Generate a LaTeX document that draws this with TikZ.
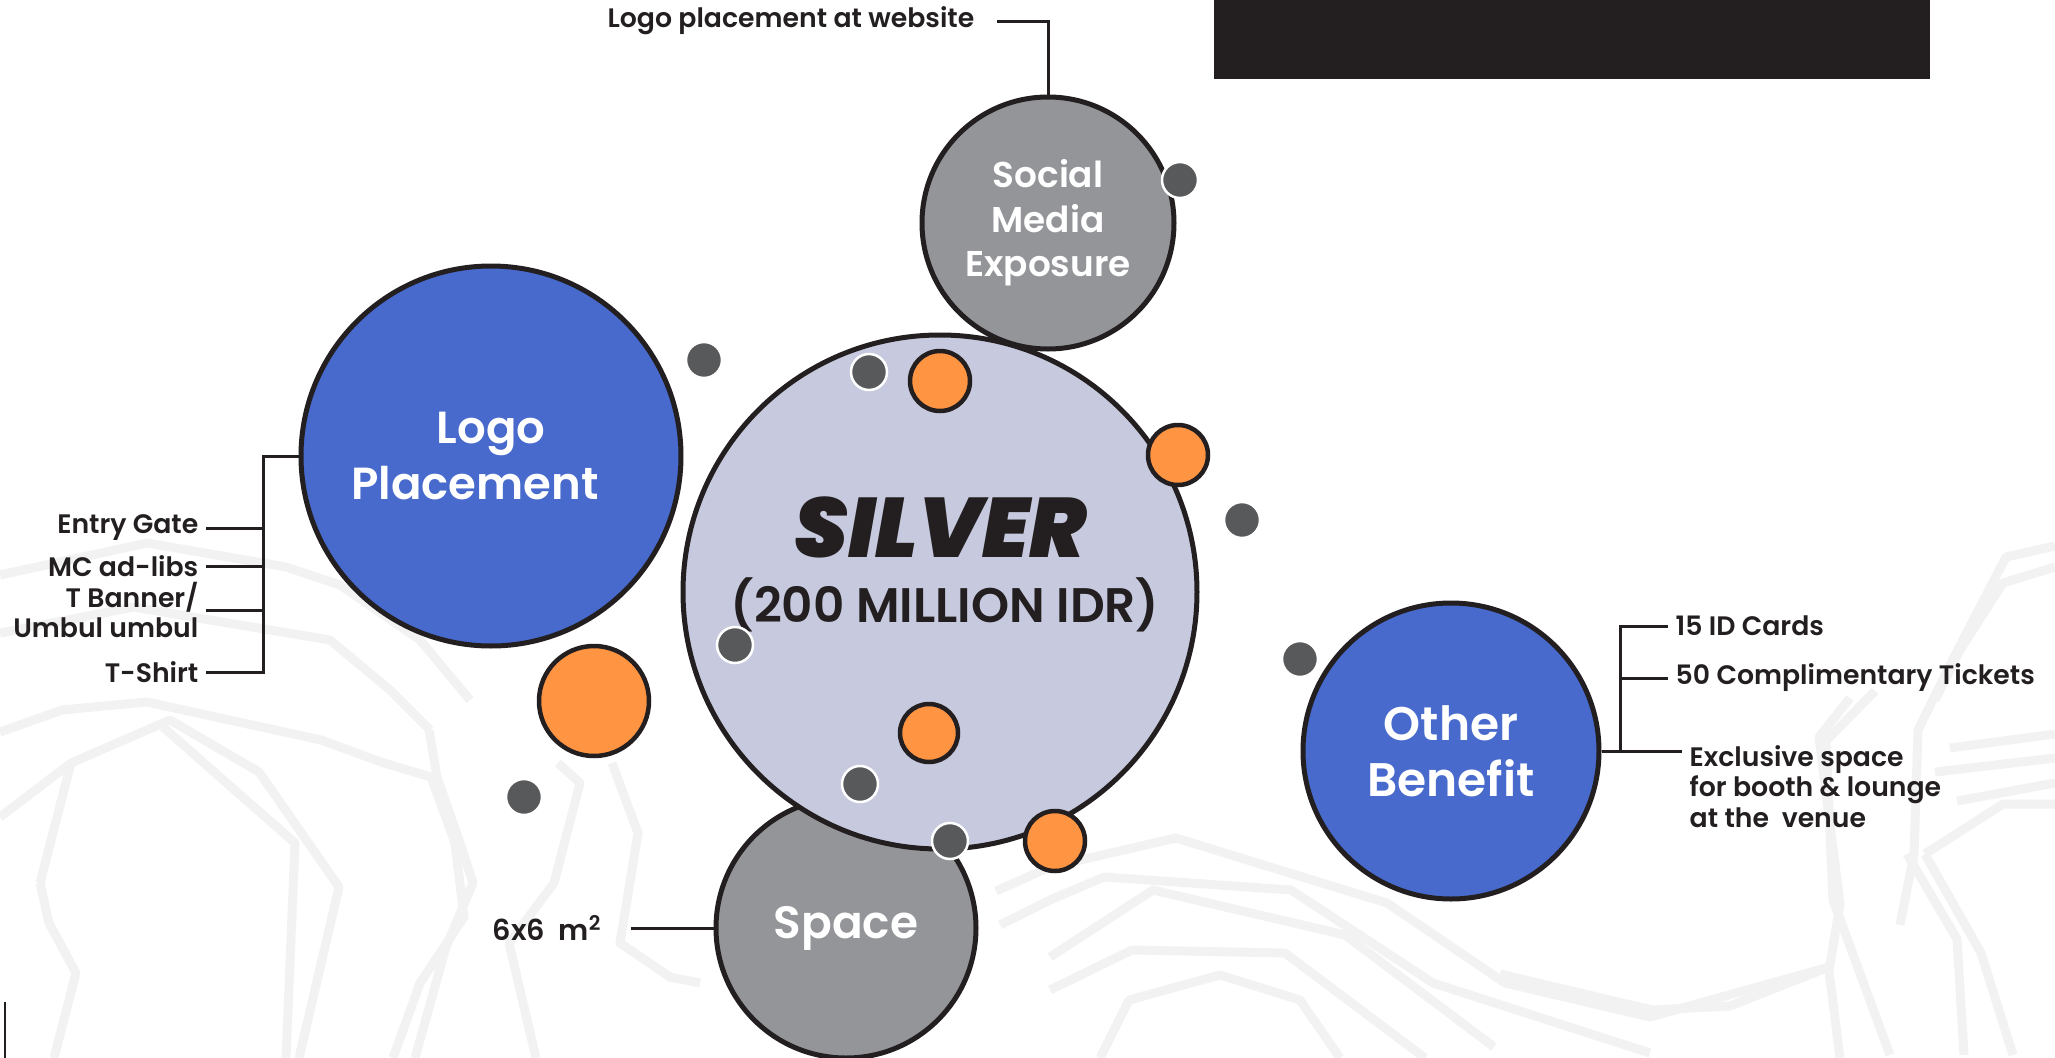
\documentclass[tikz,border=0pt]{standalone}
\usepackage{fontspec}
\setmainfont{Poppins}[UprightFont=* SemiBold, BoldFont=* Bold]
\newfontfamily\heavyfont{Poppins}[UprightFont=* Black Italic]
\usepackage{xcolor}
\definecolor{pblue}{RGB}{71,106,204}
\definecolor{plav}{RGB}{199,202,222}
\definecolor{pgray}{RGB}{147,149,152}
\definecolor{pdot}{RGB}{88,89,91}
\definecolor{porange}{RGB}{255,148,66}
\definecolor{pblack}{RGB}{35,31,32}
\tikzset{
  ball/.style={circle, draw=pblack, line width=0.5mm, inner sep=0pt, text=white, align=center},
  conn/.style={draw=pblack, line width=0.3mm},
  lbl/.style={text=pblack, inner sep=0.7mm, font=\fontsize{7.6}{8.6}\selectfont},
  bgline/.style={draw=black!5, line width=0.9mm, line join=round}
}

\begin{document}
\begin{tikzpicture}[x=0.1mm,y=-0.1mm]%
\useasboundingbox (0,0) rectangle (2055,1058);

%background pattern
\begin{scope}[bgline]
  \draw (0,575) -- (147,543) -- (286,567) -- (340,585) -- (420,640) -- (470,700);
  \draw (0,633) -- (134,607) -- (192,617) -- (330,640) -- (390,690) -- (430,730);
  \draw (0,732) -- (62,710) -- (147,702) -- (321,740) -- (384,763) -- (431,777) -- (455,843) -- (464,917) -- (420,983) -- (393,1058);
  \draw (0,817) -- (71,763) -- (170,720) -- (259,772) -- (339,887) -- (299,1058);
  \draw (40,883) -- (71,763);
  \draw (40,883) -- (49,923) -- (76,973) -- (54,1058);
  \draw (163,727) -- (295,843) -- (286,1058);
  \draw (429,730) -- (437,777) -- (460,843) -- (473,883) -- (446,947) -- (415,1058);
  \draw (558,763) -- (580,783) -- (554,883) -- (509,943) -- (536,1058);
  \draw (612,763) -- (638,833) -- (620,943) -- (670,977) -- (700,983);
  \draw (996,891) -- (1050,867) -- (1176,838) -- (1387,903) -- (1505,983) -- (1650,1017) -- (1829,967);
  \draw (1000,925) -- (1050,900) -- (1104,877) -- (1291,890) -- (1433,983) -- (1650,1053);
  \draw (1050,957) -- (1153,890) -- (1345,935) -- (1494,1047);
  \draw (1050,990) -- (1132,950) -- (1285,953) -- (1425,1058);
  \draw (1100,1058) -- (1129,1000) -- (1220,975) -- (1300,1000) -- (1340,1058);
  \draw (1500,974) -- (1652,1010) -- (1730,1006) -- (1829,967);
  \draw (2055,546) -- (2006,557) -- (1953,659) -- (1918,730) -- (1914,854) -- (1900,925);
  \draw (2055,567) -- (2003,583) -- (1960,650) -- (1935,700);
  \draw (1875,691) -- (1826,741) -- (1833,900) -- (1890,1055);
  \draw (1850,698) -- (1819,737) -- (1840,904) -- (1829,971) -- (1840,1058);
  \draw (1907,854) -- (1957,939) -- (1964,1055);
  \draw (1925,854) -- (1981,953) -- (2013,1055);
  \draw (1950,748) -- (2055,734);
  \draw (1935,772) -- (2055,758);
  \draw (1957,801) -- (2055,783);
  \draw (1925,854) -- (2003,804) -- (2055,804);
\end{scope}

%header bar
\fill[pblack] (1214,0) rectangle (1930,79);
\draw[pblack, line width=0.15mm] (5,1002) -- (5,1058);

%main circles
\node[ball, fill=pgray, minimum size=26mm, font=\fontsize{12.9}{16}\selectfont] (space) at (846,928) {Space};
\node[ball, fill=plav, minimum size=51.4mm] (silver) at (940,592) {};
\node[ball, fill=pgray, minimum size=25.2mm, font=\fontsize{10.2}{12.7}\selectfont] (social) at (1048,223) {Social\\Media\\Exposure};
\node[ball, fill=pblue, minimum size=38mm, font=\fontsize{12.8}{16}\selectfont] (logo) at (491,456) {Logo\\Placement\hspace*{3.2mm}};
\node[ball, fill=pblue, minimum size=29.6mm, font=\fontsize{13.4}{16}\selectfont] (other) at (1451,751) {Other\\Benefit};

\node[text=pblack, font=\heavyfont\fontsize{24}{24}\selectfont] (tier) at (940,527) {SILVER};
\node[text=pblack, font=\fontsize{13.8}{14}\selectfont] (price) at (945,605) {(200 MILLION IDR)};

%small dots
\foreach \x/\y in {1180/180, 704/360, 869/372, 1242/520, 735/645, 1300/659, 524/797, 860/784, 950/841}
  \fill[pdot, draw=white, line width=0.25mm] (\x,\y) circle (18);
\foreach \x/\y/\r in {940/381/30, 1178/455/30, 594/701/55, 929/733/29, 1055/841/30}
  \filldraw[fill=porange, draw=pblack, line width=0.45mm] (\x,\y) circle (\r);

%labels
\node[lbl, anchor=east] (web) at (982,21) {Logo placement at website};
\draw[conn] ([xshift=1.5mm]web.east) -| (social.north);

\node[lbl, anchor=east] (gate) at (206,528) {Entry Gate};
\node[lbl, anchor=east] (mc) at (206,566) {MC ad-libs};
\node[lbl, anchor=east, align=right] (banner) at (206,610) {T Banner/\\Umbul umbul};
\node[lbl, anchor=east] (shirt) at (206,672) {T-Shirt};
\coordinate (lbr) at (263,456);
\draw[conn] (logo.west) -- (lbr) |- (shirt.east);
\foreach \n in {gate, mc, banner}
  \draw[conn] (\n.east) -- (\n.east -| lbr);

\node[lbl, anchor=east, font=\fontsize{8.2}{9}\selectfont] (sqm) at (610,928) {6x6\ \ m\textsuperscript{2}};
\draw[conn] ([xshift=2.1mm]sqm.east) -- (space.west);

\node[lbl, anchor=west] (cards) at (1668,626) {15 ID Cards};
\node[lbl, anchor=west] (tickets) at (1668,678) {50 Complimentary Tickets};
\node[lbl, anchor=north west, align=left] (booth) at (1682,738) {Exclusive space\\for booth \& lounge\\at the\ \ venue};
\coordinate (rbr) at (1620,751);
\draw[conn] (other.east) -- (other.east -| booth.west);
\draw[conn] (rbr) |- (cards.west);
\draw[conn] (tickets.west) -- (tickets.west -| rbr);

\end{tikzpicture}
\end{document}
